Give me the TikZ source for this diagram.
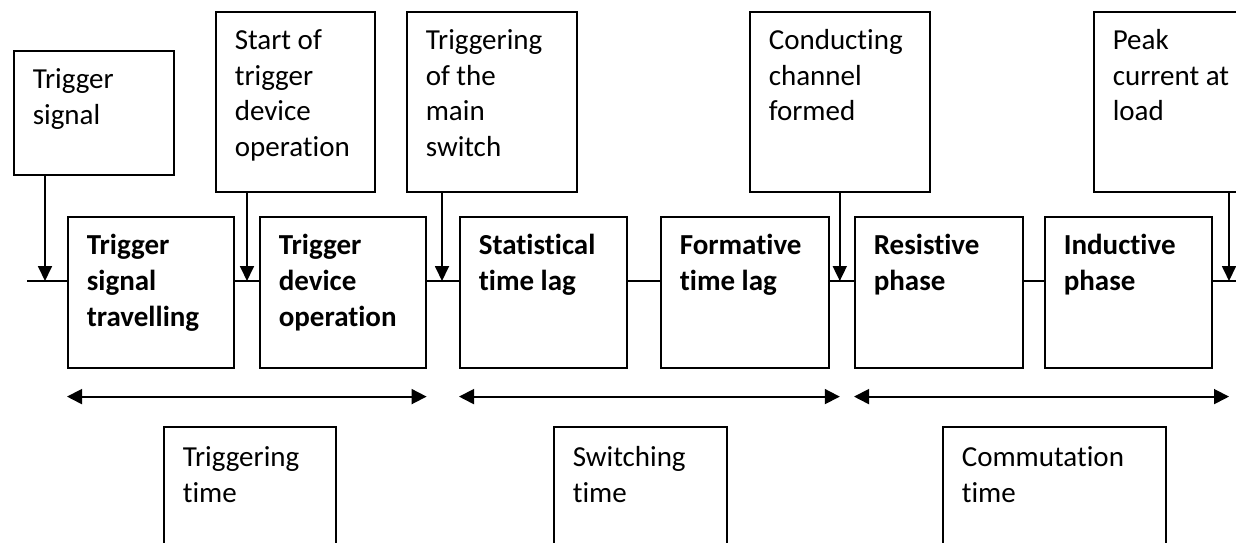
\documentclass[tikz,border=0pt]{standalone}
\usepackage{fontspec}
\setmainfont{Carlito}[Ligatures=NoCommon]
\usetikzlibrary{arrows.meta,calc}
\begin{document}
\begin{tikzpicture}[x=1pt,y=-1pt,
  box/.style={draw, line width=1.6pt, anchor=north west, inner xsep=19pt, inner ysep=0pt,
    align=left, text height=38pt, font=\fontsize{29}{35.5}\selectfont,
    execute at begin node={\spaceskip=0pt\xspaceskip=0pt\relax}},
  bsize/.style 2 args={text width=#1, text depth=#2},
  phase/.style={box, font=\fontsize{29}{36}\selectfont\bfseries},
  conn/.style={line width=1.8pt},
  darr/.style={line width=1.8pt, -{Triangle[length=15pt,width=14pt]}},
  dbl/.style={line width=1.8pt, {Triangle[length=15pt,width=15pt]}-{Triangle[length=15pt,width=15pt]}}]
\useasboundingbox (0,0) rectangle (1236,543);
\clip (0,0) rectangle (1236,543);

% top event boxes
\node[box, bsize={122pt}{86pt}]  (ts) at (13,50)   {Trigger\\signal};
\node[box, bsize={121pt}{142pt}] (st) at (215,11)  {Start of\\trigger\\device\\operation};
\node[box, bsize={132pt}{142pt}] (tm) at (406,11)  {Triggering\\of the\\main\\switch};
\node[box, bsize={142pt}{142pt}] (cc) at (749,11)  {Conducting\\channel\\formed};
\node[box, bsize={142pt}{142pt}] (pk) at (1093,11) {Peak\\current at\\load};

% phase boxes
\node[phase, bsize={128pt}{113pt}] (b1) at (67,216)   {Trigger\\signal\\travelling};
\node[phase, bsize={128pt}{113pt}] (b2) at (259,216)  {Trigger\\device\\operation};
\node[phase, bsize={129pt}{113pt}] (b3) at (459,216)  {Statistical\\time lag};
\node[phase, bsize={130pt}{113pt}] (b4) at (660,216)  {Formative\\time lag};
\node[phase, bsize={130pt}{113pt}] (b5) at (854,216)  {Resistive\\phase};
\node[phase, bsize={129pt}{113pt}] (b6) at (1044,216) {Inductive\\phase};

% bottom duration boxes
\node[box, text height=40pt, bsize={134pt}{160pt}] (tt) at (163,426) {Triggering\\time};
\node[box, text height=40pt, bsize={135pt}{160pt}] (sw) at (553,426) {Switching\\time};
\node[box, text height=40pt, bsize={185pt}{160pt}] (ct) at (942,426) {Commutation\\time};

% main time line
\coordinate (L) at (27,281);
\coordinate (R) at (1240,281);
\draw[conn] (L) -- (L -| b1.west);
\draw[conn] (b1.east |- L) -- (b2.west |- L);
\draw[conn] (b2.east |- L) -- (b3.west |- L);
\draw[conn] (b3.east |- L) -- (b4.west |- L);
\draw[conn] (b4.east |- L) -- (b5.west |- L);
\draw[conn] (b5.east |- L) -- (b6.west |- L);
\draw[conn] (b6.east |- L) -- (R);

% event arrows
\coordinate (a1) at ([xshift=32pt]ts.south west);
\coordinate (a2) at ([xshift=32pt]st.south west);
\coordinate (a3) at ([xshift=36pt]tm.south west);
\coordinate (a4) at (cc.south);
\coordinate (a5) at ([xshift=136pt]pk.south west);
\draw[darr] (a1) -- (a1 |- L);
\draw[darr] (a2) -- (a2 |- L);
\draw[darr] (a3) -- (a3 |- L);
\draw[darr] (a4) -- (a4 |- L);
\draw[darr] (a5) -- (a5 |- L);

% duration arrows
\coordinate (d1) at ([yshift=-28pt]b1.south west);
\coordinate (d2) at ([yshift=-28pt]b3.south west);
\coordinate (d3) at ([yshift=-28pt]b5.south west);
\draw[dbl] (d1) -- (d1 -| b2.east);
\draw[dbl] (d2) -- (d2 -| a4);
\draw[dbl] (d3) -- (d3 -| a5);
\end{tikzpicture}
\end{document}
